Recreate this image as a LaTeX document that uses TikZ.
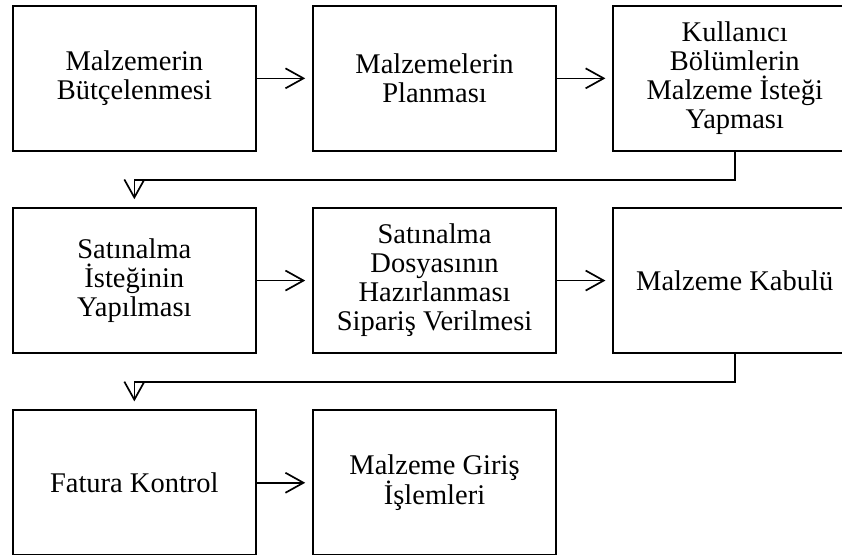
\documentclass[tikz,border=0pt]{standalone}
\usepackage{fontspec}
\setmainfont{Liberation Serif}
\usetikzlibrary{arrows.meta,positioning}

\begin{document}
\begin{tikzpicture}[node distance=55.5pt,>={Straight Barb[length=18pt,width=20pt]},line width=1.7pt,every node/.append style={align=center},box/.style={draw, minimum width=243pt, minimum height=145pt, font=\fontsize{28.5pt}{29pt}\selectfont},link/.style={->,shorten >=7pt}]
    \useasboundingbox (0,0) rectangle (842pt,-554pt);
    \node [box, anchor=north west] (Butce) at (12pt,-5pt) {Malzemerin\\Bütçelenmesi};
    \node [box, right=of Butce] (Plan) {Malzemelerin\\Planması};
    \node [box, right=of Plan] (Istek) {Kullanıcı\\Bölümlerin\\Malzeme İsteği\\Yapması};
    \node [box, below=of Butce] (SatIstek) {Satınalma\\İsteğinin\\Yapılması};
    \node [box, right=of SatIstek] (Dosya) {Satınalma\\Dosyasının\\Hazırlanması\\Sipariş Verilmesi};
    \node [box, right=of Dosya] (Kabul) {Malzeme Kabulü};
    \node [box, below=of SatIstek] (Fatura) {Fatura Kontrol};
    \node [box, right=of Fatura] (Giris) {Malzeme Giriş\\İşlemleri};
    \path[link] (Butce) edge (Plan);
    \path[link] (Plan) edge (Istek);
    \draw[link, shorten >=8pt] (Istek.south) -- ++(0,-28pt) -| (SatIstek.north);
    \path[link] (SatIstek) edge (Dosya);
    \path[link] (Dosya) edge (Kabul);
    \draw[link, shorten >=8pt] (Kabul.south) -- ++(0,-28pt) -| (Fatura.north);
    \path[link] (Fatura) edge (Giris);
\end{tikzpicture}
\end{document}
